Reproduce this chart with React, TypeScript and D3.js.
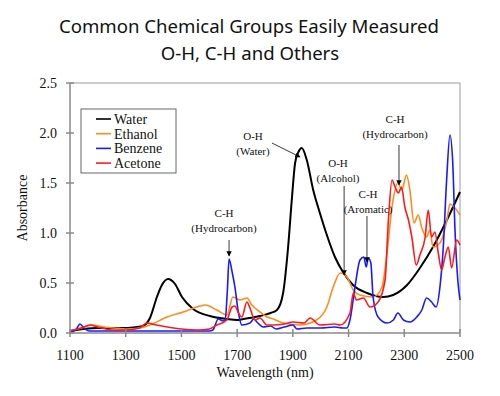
import { useEffect, useRef } from "react";
import * as d3 from "d3";

type Pt = [number, number];

// wavelength (nm), absorbance
const water: Pt[] = [
  [1100, 0.02], [1150, 0.04], [1200, 0.05], [1250, 0.05], [1300, 0.05], [1340, 0.06],
  [1362, 0.07], [1387, 0.15], [1412, 0.36], [1430, 0.48], [1452, 0.54], [1477, 0.49],
  [1502, 0.36], [1542, 0.24], [1602, 0.17], [1663, 0.14], [1700, 0.13], [1722, 0.14],
  [1782, 0.17], [1820, 0.2], [1843, 0.23], [1865, 0.4], [1883, 0.86], [1897, 1.36],
  [1908, 1.7], [1920, 1.81], [1932, 1.85], [1950, 1.73], [1973, 1.43], [1997, 1.2],
  [2022, 0.98], [2051, 0.76], [2080, 0.61], [2116, 0.48], [2166, 0.4], [2224, 0.36],
  [2260, 0.38], [2310, 0.48], [2356, 0.65], [2403, 0.86], [2453, 1.13], [2500, 1.41],
];

const ethanol: Pt[] = [
  [1100, 0.02], [1140, 0.05], [1180, 0.08], [1220, 0.06], [1260, 0.05], [1300, 0.04],
  [1350, 0.05], [1387, 0.08], [1448, 0.16], [1507, 0.21], [1567, 0.27], [1585, 0.28],
  [1627, 0.23], [1663, 0.18], [1685, 0.36], [1710, 0.33], [1735, 0.35], [1753, 0.28],
  [1782, 0.21], [1807, 0.16], [1830, 0.14], [1865, 0.1], [1925, 0.08], [1985, 0.13],
  [2022, 0.26], [2045, 0.46], [2070, 0.6], [2094, 0.56], [2117, 0.43], [2140, 0.38],
  [2188, 0.36], [2220, 0.46], [2238, 0.8], [2256, 1.26], [2277, 1.5], [2291, 1.43],
  [2308, 1.58], [2320, 1.43], [2335, 1.1], [2350, 1.18], [2363, 1.05], [2380, 0.96],
  [2392, 1.03], [2403, 0.86], [2428, 0.9], [2453, 1.13], [2464, 1.29], [2482, 1.25],
  [2500, 1.18],
];

const benzene: Pt[] = [
  [1100, 0.01], [1120, 0.03], [1136, 0.09], [1150, 0.05], [1170, 0.02], [1250, 0.02],
  [1350, 0.02], [1450, 0.02], [1550, 0.02], [1600, 0.02], [1613, 0.03], [1632, 0.14],
  [1650, 0.12], [1657, 0.13], [1665, 0.43], [1671, 0.74], [1682, 0.61], [1692, 0.46],
  [1703, 0.23], [1717, 0.08], [1746, 0.1], [1760, 0.14], [1771, 0.11], [1793, 0.06],
  [1820, 0.07], [1840, 0.04], [1870, 0.06], [1900, 0.08], [1915, 0.04], [1950, 0.05],
  [2000, 0.05], [2050, 0.06], [2080, 0.05], [2094, 0.05], [2105, 0.13], [2123, 0.46],
  [2141, 0.73], [2155, 0.76], [2163, 0.66], [2171, 0.75], [2180, 0.7], [2188, 0.36],
  [2206, 0.16], [2238, 0.1], [2261, 0.13], [2277, 0.2], [2297, 0.13], [2320, 0.11],
  [2345, 0.16], [2363, 0.23], [2380, 0.35], [2398, 0.31], [2414, 0.26], [2428, 0.46],
  [2440, 0.86], [2452, 1.53], [2464, 1.98], [2474, 1.7], [2482, 1.03], [2493, 0.5],
  [2500, 0.33],
];

const acetone: Pt[] = [
  [1100, 0.02], [1140, 0.05], [1172, 0.08], [1200, 0.06], [1250, 0.03], [1300, 0.03],
  [1350, 0.05], [1376, 0.1], [1410, 0.08], [1450, 0.06], [1500, 0.04], [1560, 0.03],
  [1600, 0.04], [1627, 0.08], [1663, 0.13], [1682, 0.26], [1692, 0.27], [1703, 0.21],
  [1717, 0.16], [1735, 0.31], [1746, 0.25], [1764, 0.13], [1782, 0.15], [1807, 0.08],
  [1830, 0.08], [1870, 0.09], [1901, 0.11], [1940, 0.1], [1962, 0.15], [1997, 0.08],
  [2050, 0.09], [2070, 0.08], [2105, 0.2], [2117, 0.4], [2128, 0.33], [2153, 0.35],
  [2177, 0.26], [2206, 0.31], [2231, 0.53], [2243, 1.13], [2256, 1.53], [2267, 1.46],
  [2279, 1.4], [2290, 1.46], [2302, 1.26], [2315, 1.13], [2327, 0.96], [2343, 0.68],
  [2356, 0.78], [2375, 0.96], [2386, 1.23], [2398, 0.96], [2410, 1.01], [2422, 0.8],
  [2434, 0.63], [2446, 0.76], [2458, 0.86], [2470, 0.65], [2488, 0.93], [2500, 0.88],
];

const seriesNames = ["Water", "Ethanol", "Benzene", "Acetone"];
const seriesData = [water, ethanol, benzene, acetone];
const seriesColors = ["#000000", "#ff8c1a", "#1a1aff", "#ff1a1a"];

const xTicks = [1100, 1300, 1500, 1700, 1900, 2100, 2300, 2500];
const yTicks = [0, 0.5, 1, 1.5, 2, 2.5];

// label lines, text anchor [nm, abs], arrow from -> to [nm, abs]
const notes = [
  { lines: ["O-H", "(Water)"], at: [1757, 1.93], from: [1825, 1.9], to: [1926, 1.76] },
  { lines: ["O-H", "(Alcohol)"], at: [2062, 1.66], from: [2084, 1.47], to: [2084, 0.58] },
  { lines: ["C-H", "(Aromatic)"], at: [2170, 1.35], from: [2166, 1.17], to: [2166, 0.71] },
  { lines: ["C-H", "(Hydrocarbon)"], at: [2267, 2.1], from: [2281, 1.88], to: [2281, 1.48] },
  { lines: ["C-H", "(Hydrocarbon)"], at: [1653, 1.16], from: [1671, 0.93], to: [1671, 0.77] },
];

const W = 500;
const H = 396;
const margin = { top: 83, right: 40, bottom: 63, left: 70 };
const serif = "'Liberation Serif', 'Times New Roman', serif";

export default function App() {
  const ref = useRef<SVGSVGElement | null>(null);

  useEffect(() => {
    const svg = d3.select(ref.current);
    svg.selectAll("*").remove();

    const x = d3.scaleLinear().domain([1100, 2500]).range([margin.left, W - margin.right]);
    const y = d3.scaleLinear().domain([0, 2.5]).range([H - margin.bottom, margin.top]);
    const axisColor = "#8a8a8a";

    svg.append("defs")
      .append("marker")
      .attr("id", "arrow")
      .attr("viewBox", "0 0 10 10")
      .attr("refX", 9)
      .attr("refY", 5)
      .attr("markerWidth", 6)
      .attr("markerHeight", 6)
      .attr("orient", "auto")
      .append("path")
      .attr("d", "M0,0L10,5L0,10Z")
      .attr("fill", "#000");

    // title
    const title = svg.append("g")
      .attr("font-family", "'Noto Sans', sans-serif")
      .attr("font-size", 18.6)
      .attr("text-anchor", "middle")
      .attr("fill", "#111");
    title.append("text").attr("x", 249).attr("y", 33).text("Common Chemical Groups Easily Measured");
    title.append("text").attr("x", 250).attr("y", 60).text("O-H, C-H and Others");

    // frame (top / right)
    svg.append("path")
      .attr("d", `M${x(1100)},${y(2.5)}H${x(2500)}V${y(0)}`)
      .attr("fill", "none")
      .attr("stroke", "#999")
      .attr("stroke-width", 1);

    // lines
    const line = d3.line<Pt>()
      .x((d) => x(d[0]))
      .y((d) => y(d[1]))
      .curve(d3.curveMonotoneX);

    seriesData.forEach((s, i) => {
      svg.append("path")
        .datum(s)
        .attr("fill", "none")
        .attr("stroke", seriesColors[i])
        .attr("stroke-width", i === 0 ? 2 : 1.6)
        .attr("stroke-linejoin", "round")
        .attr("d", line);
    });

    // axes
    const ax = svg.append("g").attr("stroke", axisColor).attr("stroke-width", 1.5);
    ax.append("line").attr("x1", x(1100)).attr("x2", x(2500)).attr("y1", y(0)).attr("y2", y(0));
    ax.append("line").attr("x1", x(1100)).attr("x2", x(1100)).attr("y1", y(0)).attr("y2", y(2.5));
    xTicks.forEach((t) => {
      ax.append("line").attr("x1", x(t)).attr("x2", x(t)).attr("y1", y(0) - 4).attr("y2", y(0) + 4);
    });
    yTicks.forEach((t) => {
      ax.append("line").attr("x1", x(1100) - 4).attr("x2", x(1100) + 4).attr("y1", y(t)).attr("y2", y(t));
    });

    const labels = svg.append("g").attr("font-family", serif).attr("font-size", 14).attr("fill", "#111");
    xTicks.forEach((t) => {
      labels.append("text").attr("x", x(t)).attr("y", y(0) + 27).attr("text-anchor", "middle").text(t);
    });
    yTicks.forEach((t) => {
      labels.append("text")
        .attr("x", x(1100) - 13)
        .attr("y", y(t) + 5)
        .attr("text-anchor", "end")
        .text(d3.format(".1f")(t));
    });
    labels.append("text")
      .attr("x", (x(1100) + x(2500)) / 2)
      .attr("y", 377)
      .attr("text-anchor", "middle")
      .text("Wavelength (nm)");
    labels.append("text")
      .attr("transform", `translate(27,${(y(0) + y(2.5)) / 2}) rotate(-90)`)
      .attr("text-anchor", "middle")
      .text("Absorbance");

    // annotations
    const ann = svg.append("g").attr("font-family", serif).attr("font-size", 11).attr("fill", "#111");
    notes.forEach((n) => {
      n.lines.forEach((l, j) => {
        ann.append("text")
          .attr("x", x(n.at[0]))
          .attr("y", y(n.at[1]) + j * 15)
          .attr("text-anchor", "middle")
          .text(l);
      });
      ann.append("line")
        .attr("x1", x(n.from[0]))
        .attr("y1", y(n.from[1]))
        .attr("x2", x(n.to[0]))
        .attr("y2", y(n.to[1]))
        .attr("stroke", "#222")
        .attr("stroke-width", 0.9)
        .attr("marker-end", "url(#arrow)");
    });

    // legend
    const lg = svg.append("g").attr("transform", "translate(81,109)");
    lg.append("rect")
      .attr("width", 95)
      .attr("height", 64)
      .attr("fill", "#fff")
      .attr("stroke", "#666")
      .attr("stroke-width", 1);
    seriesNames.forEach((name, i) => {
      const row = lg.append("g").attr("transform", `translate(0,${10 + i * 14.7})`);
      row.append("line")
        .attr("x1", 15)
        .attr("x2", 30)
        .attr("stroke", seriesColors[i])
        .attr("stroke-width", 1.6);
      row.append("text")
        .attr("x", 33)
        .attr("y", 5)
        .attr("font-family", serif)
        .attr("font-size", 14)
        .attr("fill", "#111")
        .text(name);
    });
  }, []);

  return (
    <svg
      ref={ref}
      width={W}
      height={H}
      style={{ position: "absolute", left: 0, top: 0, background: "#fff" }}
    />
  );
}
